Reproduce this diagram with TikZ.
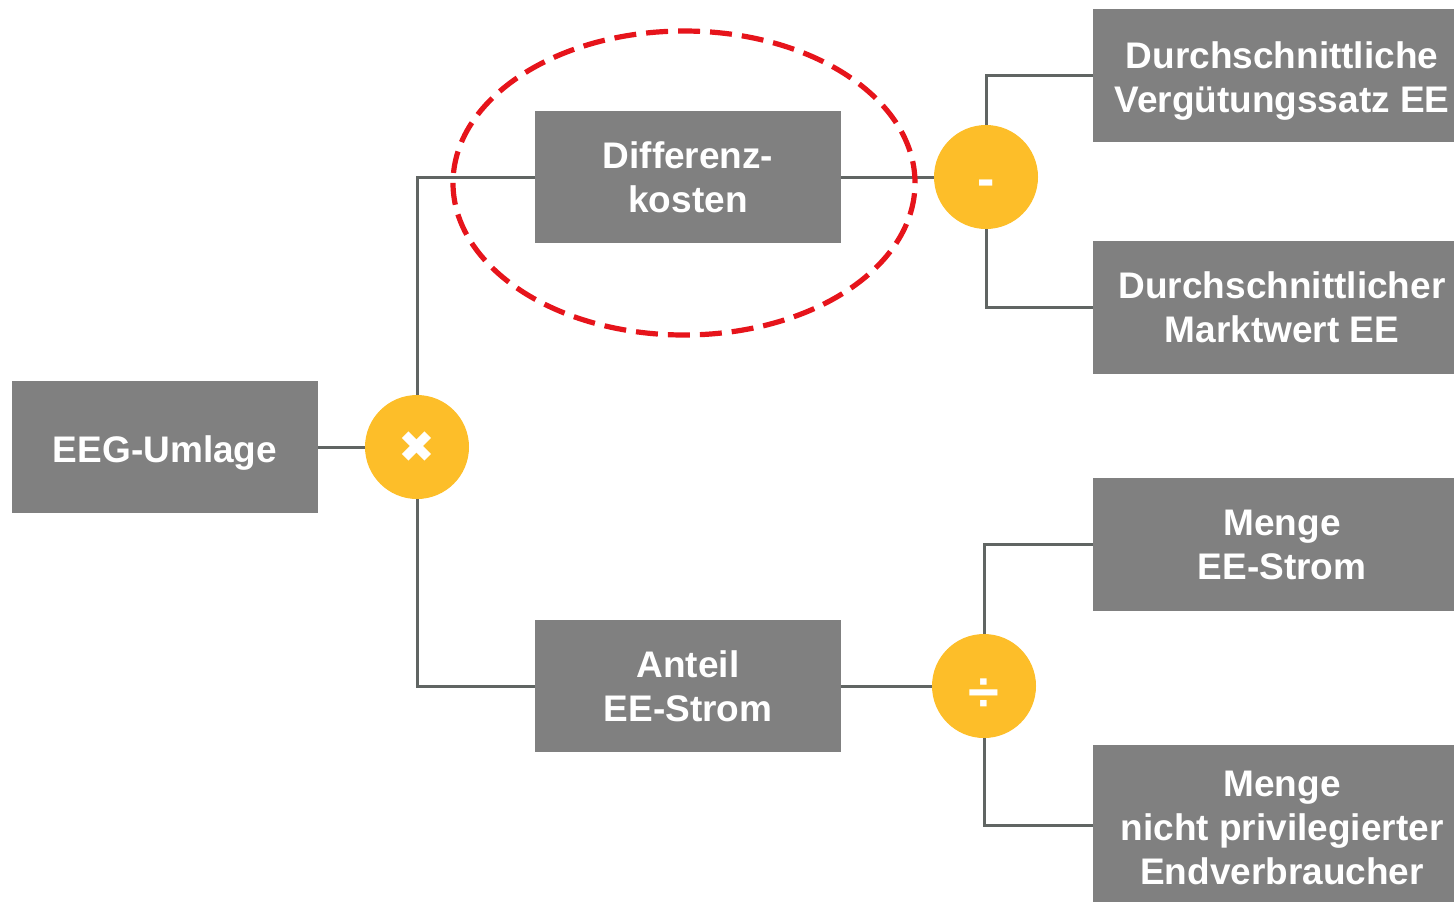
\documentclass[tikz,border=0pt]{standalone}
\usepackage{fontspec}
\usetikzlibrary{shapes.geometric}
\setmainfont{Liberation Sans}
\newfontfamily\symfont{DejaVu Sans}
\definecolor{boxgray}{HTML}{808080}
\definecolor{opyellow}{HTML}{FDBE29}
\definecolor{linegray}{HTML}{606563}
\definecolor{ovalred}{HTML}{E6141B}
\newcommand\lowertext[2]{\raisebox{-#1}[\height][\depth]{#2}}
\begin{document}
\begin{tikzpicture}[x=0.5pt,y=-0.5pt,
  box/.style={fill=boxgray,text=white,font=\bfseries\fontsize{18.5}{22}\selectfont,align=center,inner sep=0pt,minimum width=153pt,minimum height=66pt},
  rbox/.style={box,minimum width=189pt,minimum height=66.5pt},
  op/.style={circle,fill=opyellow,text=white,minimum size=52pt,inner sep=0pt},
  conn/.style={draw=linegray,line width=1.5pt}]
\useasboundingbox (0,0) rectangle (1454,901);
\node[box] (eeg) at (165,447) {\lowertext{3pt}{EEG-Umlage}};
\node[box] (diff) at (688,177) {Differenz-\\kosten};
\node[box] (ant) at (688,686) {Anteil\\EE-Strom};
\node[rbox] (verg) at (1282,75.5) {\lowertext{3pt}{\begin{tabular}{@{}c@{}}Durchschnittliche\\Vergütungssatz EE\end{tabular}}};
\node[rbox] (markt) at (1282,307.5) {Durchschnittlicher\\Marktwert EE};
\node[rbox] (mee) at (1282,544.5) {Menge\\EE-Strom};
\node[rbox,minimum height=83pt] (mnp) at (1282,828) {Menge\\nicht privilegierter\\Endverbraucher};
\node[op,font=\symfont\bfseries\fontsize{22}{22}\selectfont] (mul) at (417,447) {✖};
\node[op,font=\bfseries\fontsize{26}{26}\selectfont] (minus) at (986,177) {\lowertext{5.5pt}{-}};
\node[op,font=\bfseries\fontsize{28}{28}\selectfont] (div) at (984,686) {\lowertext{4.5pt}{÷}};
\draw[conn] (eeg.east) -- (mul.west);
\draw[conn] (mul.north) |- (diff.west);
\draw[conn] (mul.south) |- (ant.west);
\draw[conn] (diff.east) -- (minus.west);
\draw[conn] (minus.north) |- (verg.west);
\draw[conn] (minus.south) |- (markt.west);
\draw[conn] (ant.east) -- (div.west);
\draw[conn] (div.north) |- (mee.west);
\draw[conn] (div.south) |- ([yshift=1.5pt]mnp.west);
\node[draw=ovalred,line width=2.6pt,dash pattern=on 11pt off 5pt,ellipse,minimum width=231pt,minimum height=152pt,inner sep=0pt] (oval) at (684,183) {};
\end{tikzpicture}
\end{document}
